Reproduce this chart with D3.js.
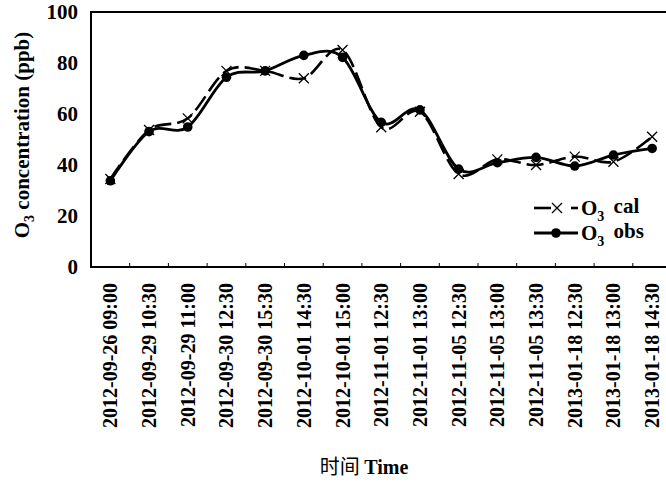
<!DOCTYPE html>
<html><head><meta charset="utf-8">
<script src="https://cdn.jsdelivr.net/npm/d3@7"></script>
<style>
body{margin:0;background:#fff;}
svg{display:block;}
text{font-family:"Liberation Serif","Times New Roman",serif;font-weight:bold;fill:#000;}
</style></head>
<body>
<svg id="chart" width="666" height="482"></svg>
<script>
const categories = ["2012-09-26 09:00","2012-09-29 10:30","2012-09-29 11:00","2012-09-30 12:30","2012-09-30 15:30","2012-10-01 14:30","2012-10-01 15:00","2012-11-01 12:30","2012-11-01 13:00","2012-11-05 12:30","2012-11-05 13:00","2012-11-05 13:30","2013-01-18 12:30","2013-01-18 13:00","2013-01-18 14:30"];
const o3Cal = [34.5,53.7,58.3,76.9,76.9,74.0,85.1,54.8,60.9,36.5,42.2,40.0,43.3,41.3,51.1];
const o3Obs = [33.8,53.1,54.9,74.4,76.9,83.0,82.2,56.7,61.6,38.4,40.9,43.0,39.6,43.9,46.5];
const yTicks = [0,20,40,60,80,100];

const svg = d3.select("#chart");
const L = 91, R = 671.5, T = 12, B = 267;
const x = d3.scaleBand().domain(categories).range([L, R]);
const y = d3.scaleLinear().domain([0, 100]).range([B, T]);
const cx = d => x(d) + x.bandwidth() / 2;

// frame
svg.append("rect").attr("x", L).attr("y", T).attr("width", R - L).attr("height", B - T)
  .attr("fill", "none").attr("stroke", "#000").attr("stroke-width", 2);

// x ticks (inside, at category boundaries)
svg.append("g").selectAll("line").data(categories.slice(1)).join("line")
  .attr("x1", d => x(d)).attr("x2", d => x(d)).attr("y1", B).attr("y2", B - 4)
  .attr("stroke", "#000").attr("stroke-width", 1);

// y tick labels
svg.append("g").selectAll("text").data(yTicks).join("text")
  .attr("x", 78).attr("y", d => y(d)).attr("dy", "0.35em")
  .attr("text-anchor", "end").style("font-size", "21px").text(d => d);

// x labels
svg.append("g").selectAll("text").data(categories).join("text")
  .attr("transform", d => `translate(${cx(d)},283) rotate(-90)`)
  .attr("dy", "0.35em").attr("text-anchor", "end").style("font-size", "20px")
  .text(d => d);

// y title
const yt = svg.append("text").attr("transform", "translate(22,135) rotate(-90)")
  .attr("dy", "0.35em").attr("text-anchor", "middle").style("font-size", "21px");
yt.append("tspan").text("O");
yt.append("tspan").text("3").style("font-size", "14px").attr("dy", "0.35em");
yt.append("tspan").text(" concentration (ppb)").attr("dy", "-0.25em");

// x title
const xt = svg.append("text").attr("x", 364).attr("y", 474).attr("text-anchor", "middle").style("font-size", "20px");
xt.append("tspan").text("时间 ").style("font-family", "'Noto Sans CJK SC'").style("font-weight", "normal");
xt.append("tspan").text("Time");

const line = d3.line().x((d, i) => cx(categories[i])).y(d => y(d)).curve(d3.curveCardinal.tension(0));

// cal line (dashed)
svg.append("path").attr("d", line(o3Cal)).attr("fill", "none").attr("stroke", "#000")
  .attr("stroke-width", 2.6).attr("stroke-dasharray", "17,6");
// obs line
svg.append("path").attr("d", line(o3Obs)).attr("fill", "none").attr("stroke", "#000")
  .attr("stroke-width", 2.8);

function xMark(g, px, py, s) {
  g.append("path").attr("d", `M${px-s},${py-s}L${px+s},${py+s}M${px-s},${py+s}L${px+s},${py-s}`)
    .attr("stroke", "#000").attr("stroke-width", 1.3).attr("fill", "none");
}
const gc = svg.append("g");
o3Cal.forEach((v, i) => xMark(gc, cx(categories[i]), y(v), 5));
svg.append("g").selectAll("circle").data(o3Obs).join("circle")
  .attr("cx", (d, i) => cx(categories[i])).attr("cy", d => y(d)).attr("r", 4.8).attr("fill", "#000");

// legend
const lg = svg.append("g");
lg.append("line").attr("x1", 534).attr("x2", 551).attr("y1", 208).attr("y2", 208).attr("stroke", "#000").attr("stroke-width", 2.6);
lg.append("line").attr("x1", 571).attr("x2", 578).attr("y1", 208).attr("y2", 208).attr("stroke", "#000").attr("stroke-width", 2.6);
xMark(lg, 557, 208, 5);
lg.append("line").attr("x1", 534).attr("x2", 578).attr("y1", 233).attr("y2", 233).attr("stroke", "#000").attr("stroke-width", 2.8);
lg.append("circle").attr("cx", 556).attr("cy", 233).attr("r", 4.8).attr("fill", "#000");
[["cal", 208], ["obs", 233]].forEach(([s, yy]) => {
  const t = lg.append("text").attr("x", 581).attr("y", yy).attr("dy", "0.35em").style("font-size", "21px");
  t.append("tspan").text("O");
  t.append("tspan").text("3").style("font-size", "14px").attr("dy", "0.4em");
  t.append("tspan").text("\u00a0" + s).attr("dx", 4).attr("dy", "-0.4em");
});
</script>
</body></html>
